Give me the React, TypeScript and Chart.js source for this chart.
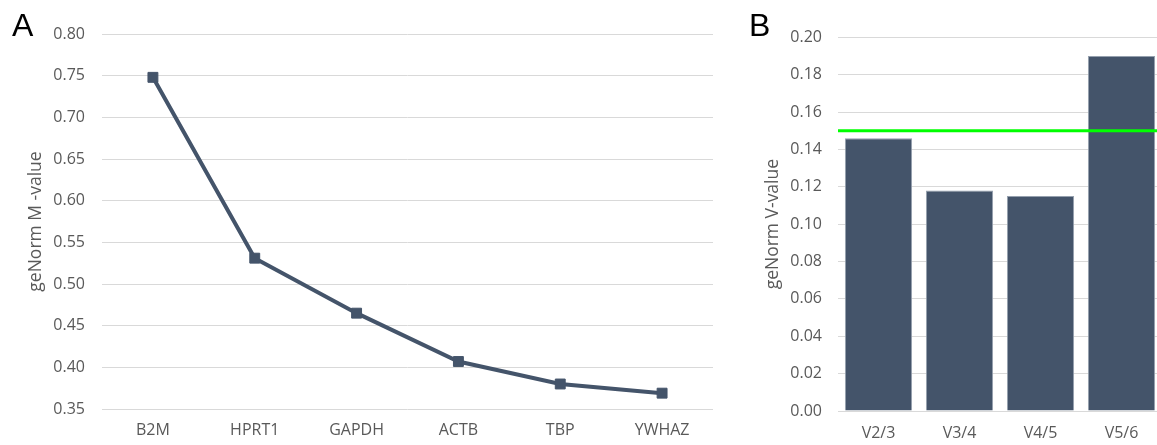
import React, { useEffect, useRef } from "react";
import { Chart, registerables } from "chart.js";

Chart.register(...registerables);

// ---- Data ----
const genes = ["B2M", "HPRT1", "GAPDH", "ACTB", "TBP", "YWHAZ"];
const mValues = [0.748, 0.531, 0.465, 0.407, 0.380, 0.369];

const pairs = ["V2/3", "V3/4", "V4/5", "V5/6"];
const vValues = [0.146, 0.118, 0.115, 0.190];
const vThreshold = 0.15;

const panelLabelA = "A";
const panelLabelB = "B";
const yTitleA = "geNorm M -value";
const yTitleB = "geNorm V-value";

// ---- Styles ----
const DARK = "#44546A";
const GRID = "#D9D9D9";
const TEXT = "#595959";
const FONT = "'Open Sans', 'Liberation Sans', sans-serif";

const panelLabelPlugin = (text: string, x: number, y: number) => ({
  id: "panelLabel" + text,
  afterDraw(chart: any) {
    const ctx = chart.ctx;
    ctx.save();
    ctx.fillStyle = "#000";
    ctx.font = "32px 'Liberation Sans', Arial, sans-serif";
    ctx.textBaseline = "alphabetic";
    ctx.textAlign = "left";
    ctx.fillText(text, x, y);
    ctx.restore();
  },
});

const thresholdPlugin = {
  id: "thresholdLine",
  afterDatasetsDraw(chart: any) {
    const { ctx, chartArea } = chart;
    const y = chart.scales.y.getPixelForValue(vThreshold);
    ctx.save();
    ctx.strokeStyle = "#00FF00";
    ctx.lineWidth = 3;
    ctx.beginPath();
    ctx.moveTo(chartArea.left, y);
    ctx.lineTo(chartArea.right, y);
    ctx.stroke();
    ctx.restore();
  },
};

const tickFont = { family: FONT, size: 16 };
const titleFont = { family: FONT, size: 17.5 };

export default function App() {
  const refA = useRef<HTMLCanvasElement>(null);
  const refB = useRef<HTMLCanvasElement>(null);

  useEffect(() => {
    const chartA = new Chart(refA.current!, {
      type: "line",
      data: {
        labels: genes,
        datasets: [
          {
            data: mValues,
            borderColor: DARK,
            backgroundColor: DARK,
            borderWidth: 4,
            pointStyle: "rect",
            pointRadius: 7,
            pointBorderWidth: 1,
            pointBackgroundColor: DARK,
            pointBorderColor: DARK,
            tension: 0,
          },
        ],
      },
      options: {
        animation: false,
        responsive: false,
        layout: { padding: { left: 26, top: 34, right: 27, bottom: 0 } },
        plugins: { legend: { display: false }, tooltip: { enabled: false } },
        scales: {
          x: {
            offset: true,
            grid: { display: false, drawTicks: false },
            border: { display: false },
            ticks: { color: TEXT, font: tickFont, padding: 12, maxRotation: 0 },
            afterFit: (s: any) => {
              s.height = 36;
            },
          },
          y: {
            min: 0.35,
            max: 0.8,
            grid: { color: GRID, lineWidth: 1, drawTicks: false },
            border: { display: false },
            ticks: {
              stepSize: 0.05,
              color: TEXT,
              font: tickFont,
              padding: 17,
              callback: (v: any) => Number(v).toFixed(2),
            },
            title: {
              display: true,
              text: yTitleA,
              color: TEXT,
              font: titleFont,
              padding: { top: 0, bottom: 0 },
            },
            afterFit: (s: any) => {
              s.width = 102 - 26;
            },
          },
        },
      },
      plugins: [panelLabelPlugin(panelLabelA, 12, 36)],
    } as any);

    const chartB = new Chart(refB.current!, {
      type: "bar",
      data: {
        labels: pairs,
        datasets: [
          {
            data: vValues,
            backgroundColor: DARK,
            borderColor: "#95A0AE",
            borderWidth: 1,
            barPercentage: 0.83,
            categoryPercentage: 1,
          },
        ],
      },
      options: {
        animation: false,
        responsive: false,
        layout: { padding: { left: 23, top: 37.3, right: 18, bottom: 0 } },
        plugins: { legend: { display: false }, tooltip: { enabled: false } },
        scales: {
          x: {
            grid: { display: false, drawTicks: false },
            border: { display: false },
            ticks: { color: TEXT, font: tickFont, padding: 13, maxRotation: 0 },
            afterFit: (s: any) => {
              s.height = 34;
            },
          },
          y: {
            min: 0,
            max: 0.2,
            grid: { color: GRID, lineWidth: 1, drawTicks: false },
            border: { display: false },
            ticks: {
              stepSize: 0.02,
              color: TEXT,
              font: tickFont,
              padding: 16,
              callback: (v: any) => Number(v).toFixed(2),
            },
            title: {
              display: true,
              text: yTitleB,
              color: TEXT,
              font: titleFont,
              padding: { top: 0, bottom: 0 },
            },
            afterFit: (s: any) => {
              s.width = 98 - 23;
            },
          },
        },
      },
      plugins: [thresholdPlugin, panelLabelPlugin(panelLabelB, 9, 36)],
    } as any);

    return () => {
      chartA.destroy();
      chartB.destroy();
    };
  }, []);

  return (
    <div
      style={{
        position: "fixed",
        left: 0,
        top: 0,
        width: "100vw",
        height: "100vh",
        overflow: "hidden",
        background: "#fff",
      }}
    >
      <canvas
        ref={refA}
        width={740}
        height={445}
        style={{ position: "absolute", left: 0, top: 0, display: "block" }}
      />
      <canvas
        ref={refB}
        width={440}
        height={445}
        style={{ position: "absolute", left: 740, top: 0, display: "block" }}
      />
    </div>
  );
}
